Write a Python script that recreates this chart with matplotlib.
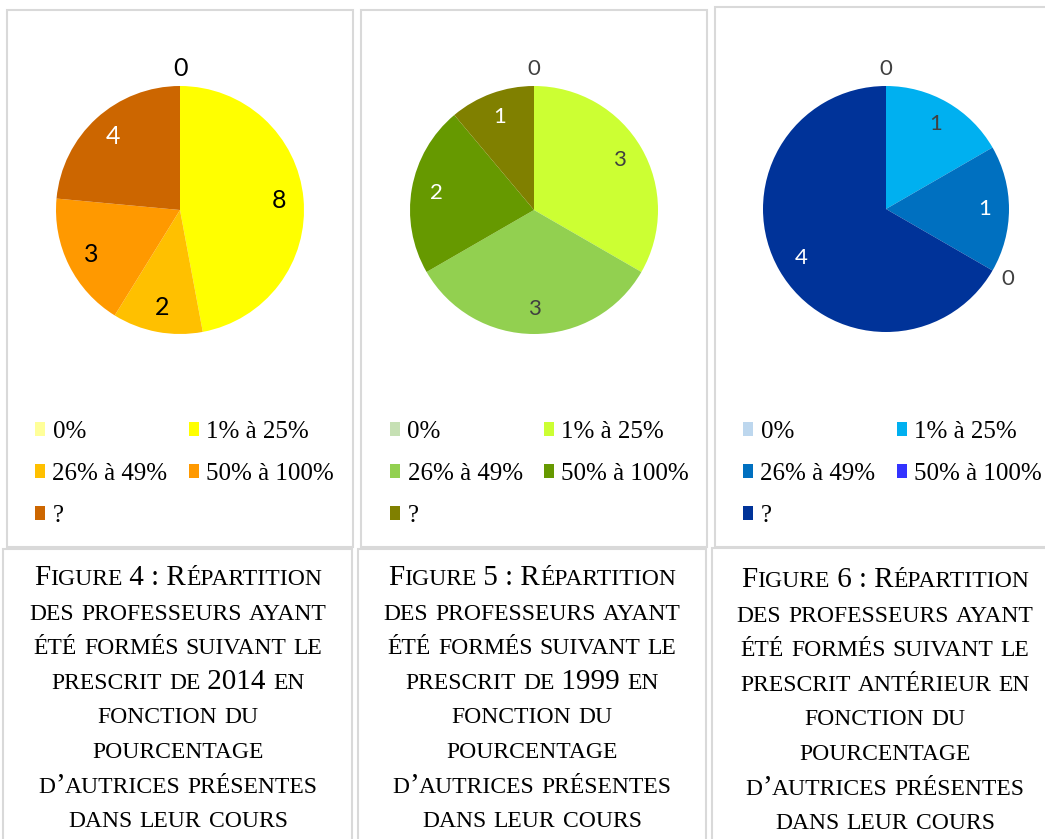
import numpy as np
import matplotlib
matplotlib.use("Agg")
import matplotlib.pyplot as plt
from matplotlib.patches import Rectangle

W, H = 1045, 839

categories = ["0%", "1% à 25%", "26% à 49%", "50% à 100%", "?"]
counts_2014 = [0, 8, 2, 3, 4]
counts_1999 = [0, 3, 3, 2, 1]
counts_older = [0, 1, 1, 0, 4]

colors_2014 = ["#FFFF99", "#FFFF00", "#FFC000", "#FF9900", "#CC6600"]
colors_1999 = ["#C6E0B4", "#CCFF33", "#92D050", "#669900", "#808000"]
colors_older = ["#BDD7EE", "#00B0F0", "#0070C0", "#3333FF", "#003399"]

labcol_2014 = ["black", "black", "black", "black", "white"]
labcol_1999 = ["#404040", "#404040", "#404040", "white", "white"]
labcol_older = ["#404040", "#404040", "white", "#404040", "white"]

captions = [
    ["Figure 4 : Répartition", "des professeurs ayant", "été formés suivant le",
     "prescrit de 2014 en", "fonction du", "pourcentage",
     "d’autrices présentes", "dans leur cours"],
    ["Figure 5 : Répartition", "des professeurs ayant", "été formés suivant le",
     "prescrit de 1999 en", "fonction du", "pourcentage",
     "d’autrices présentes", "dans leur cours"],
    ["Figure 6 : Répartition", "des professeurs ayant", "été formés suivant le",
     "prescrit antérieur en", "fonction du", "pourcentage",
     "d’autrices présentes", "dans leur cours"],
]

fig = plt.figure(figsize=(W / 100, H / 100), dpi=100)


def fx(x):
    return x / W


def fy(y):
    return 1 - y / H


def box(x0, y0, x1, y1):
    fig.patches.append(Rectangle((fx(x0), fy(y1)), (x1 - x0) / W, (y1 - y0) / H,
                                 transform=fig.transFigure, fill=False,
                                 edgecolor="#d9d9d9", linewidth=1.5))


# panel frames
box(7, 10, 353, 547)
box(3, 549, 352, 845)
box(361, 10, 707, 547)
box(358, 549, 706, 845)
box(715, 7, 1052, 547)
box(712, 548, 1052, 845)

panels = [
    (180, 210, 124, counts_2014, colors_2014, labcol_2014, 18, 35, 178, 585),
    (534, 210, 124, counts_1999, colors_1999, labcol_1999, 16, 390, 532, 585),
    (886, 209, 123, counts_older, colors_older, labcol_older, 16, 743, 885, 587),
]

renderer = fig.canvas.get_renderer()


def advance(s, size):
    t = fig.text(0, 0, s + "|", fontsize=size, family="Liberation Serif")
    t2 = fig.text(0, 0, "|", fontsize=size, family="Liberation Serif")
    w = t.get_window_extent(renderer).width - t2.get_window_extent(renderer).width
    t.remove()
    t2.remove()
    return w


def smallcaps_line(cx, y, line, big=21, small=17):
    runs = []
    for ch in line:
        kind = "small" if ch.islower() else "big"
        if runs and runs[-1][0] == kind:
            runs[-1][1] += ch
        else:
            runs.append([kind, ch])
    pieces = []
    total = 0
    for kind, s in runs:
        size = small if kind == "small" else big
        s = s.upper()
        w = advance(s, size)
        pieces.append((s, size, w))
        total += w
    x = cx - total / 2
    for s, size, w in pieces:
        fig.text(fx(x), fy(y), s, fontsize=size, family="Liberation Serif",
                 ha="left", va="baseline", color="black")
        x += w


for (cx, cy, r, vals, cols, lcols, fs, lx, capx, capy), cap in zip(panels, captions):
    ax = fig.add_axes([fx(cx - 1.25 * r), fy(cy + 1.25 * r), 2.5 * r / W, 2.5 * r / H])
    wedges, _ = ax.pie(vals, colors=cols, startangle=90, counterclock=False,
                       wedgeprops=dict(linewidth=0))
    ax.set_xlim(-1.25, 1.25)
    ax.set_ylim(-1.25, 1.25)
    for w, v, c in zip(wedges, vals, lcols):
        ang = np.deg2rad((w.theta1 + w.theta2) / 2)
        d = 0.8 if v else 1.14
        ax.text(d * np.cos(ang), d * np.sin(ang), str(v), ha="center", va="center",
                color=c, fontsize=fs, family="Lato")

    order = [0, 2, 4, 1, 3]
    fig.legend([wedges[i] for i in order], [categories[i] for i in order], ncol=2,
               loc="upper left", bbox_to_anchor=(fx(lx), fy(421)), frameon=False,
               prop={"family": "Liberation Serif", "size": 18},
               handlelength=0.4, handleheight=0.45, handletextpad=0.3,
               columnspacing=0.85, labelspacing=0.8, borderpad=0, borderaxespad=0)

    for i, line in enumerate(cap):
        smallcaps_line(capx, capy + i * 34.6, line)

fig.savefig("out.png", dpi=100)
